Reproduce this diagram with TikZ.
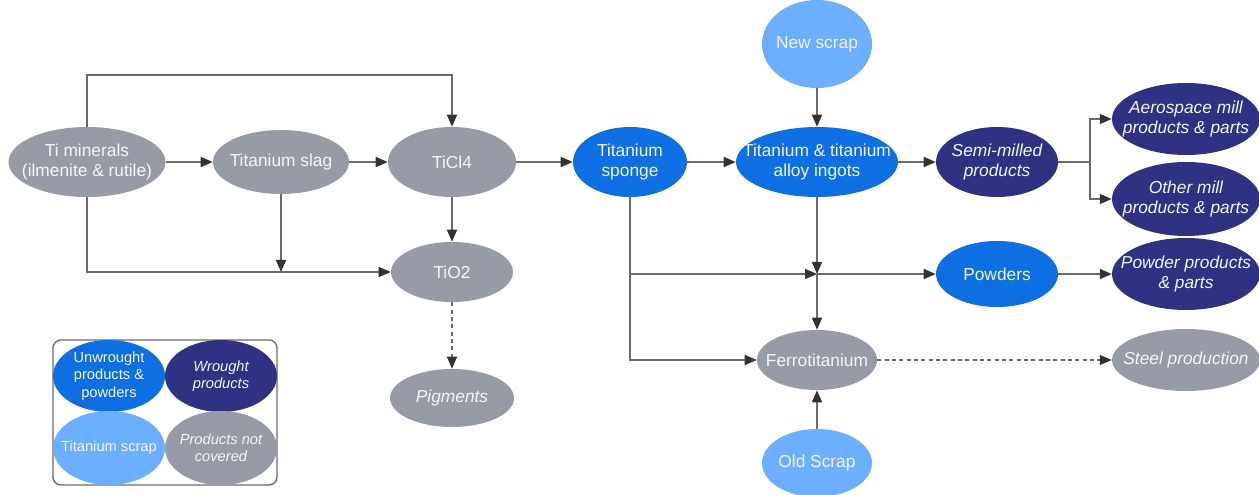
\documentclass[tikz,border=0pt]{standalone}
\usepackage{fontspec}
\setmainfont{Liberation Sans}
\usetikzlibrary{arrows.meta,shapes.geometric}
\definecolor{cgrey}{HTML}{969BA5}
\definecolor{cblue}{HTML}{0E6FE2}
\definecolor{cnavy}{HTML}{2F3282}
\definecolor{clight}{HTML}{6CAEFF}
\definecolor{cline}{HTML}{6A6A6A}
\definecolor{ctip}{HTML}{333333}
\definecolor{ctext}{HTML}{F4F4F8}
\begin{document}
\begin{tikzpicture}[x=0.75pt,y=-0.75pt,
  bub/.style={ellipse,inner sep=0pt},
  lab/.style={inner sep=0pt,align=center,text=ctext,font=\fontsize{13}{15.5}\selectfont},
  ilab/.style={lab,font=\fontsize{13}{15.5}\selectfont\itshape},
  slab/.style={lab,font=\fontsize{11}{13}\selectfont},
  silab/.style={lab,font=\fontsize{11}{13}\selectfont\itshape},
  con/.style={draw=cline,line width=1.1pt},
  arr/.style={con,-{Triangle[length=9pt,width=7.5pt,color=ctip]}},
  dsh/.style={arr,dash pattern=on 3pt off 2.5pt}
]
\useasboundingbox[fill=white] (0,0) rectangle (1259,495);

% ellipses
\node[bub,fill=cgrey,minimum width=157*0.75pt,minimum height=70*0.75pt] (tim) at (87,162) {};
\node[bub,fill=cgrey,minimum width=136*0.75pt,minimum height=64*0.75pt] (slag) at (281,162) {};
\node[bub,fill=cgrey,minimum width=128*0.75pt,minimum height=70*0.75pt] (ticl) at (452,162) {};
\node[bub,fill=cgrey,minimum width=122*0.75pt,minimum height=60*0.75pt] (tio) at (452,272) {};
\node[bub,fill=cgrey,minimum width=124*0.75pt,minimum height=58*0.75pt] (pig) at (452,398) {};
\node[bub,fill=cblue,minimum width=114*0.75pt,minimum height=70*0.75pt] (sponge) at (630,162) {};
\node[bub,fill=cblue,minimum width=162*0.75pt,minimum height=70*0.75pt] (ingot) at (817,162) {};
\node[bub,fill=clight,minimum width=110*0.75pt,minimum height=88*0.75pt] (newscrap) at (817,44) {};
\node[bub,fill=cnavy,minimum width=122*0.75pt,minimum height=70*0.75pt] (semi) at (997,162) {};
\node[bub,fill=cnavy,minimum width=148*0.75pt,minimum height=72*0.75pt] (aero) at (1186,119) {};
\node[bub,fill=cnavy,minimum width=148*0.75pt,minimum height=74*0.75pt] (other) at (1186,199) {};
\node[bub,fill=cblue,minimum width=122*0.75pt,minimum height=66*0.75pt] (powders) at (997,274) {};
\node[bub,fill=cnavy,minimum width=148*0.75pt,minimum height=72*0.75pt] (pprod) at (1186,274) {};
\node[bub,fill=cgrey,minimum width=120*0.75pt,minimum height=60*0.75pt] (ferro) at (817,360) {};
\node[bub,fill=cgrey,minimum width=148*0.75pt,minimum height=62*0.75pt] (steel) at (1186,360) {};
\node[bub,fill=clight,minimum width=110*0.75pt,minimum height=68*0.75pt] (oldscrap) at (817,463) {};

% labels
\node[lab] (tim-t) at (tim) {Ti minerals\\(ilmenite \& rutile)};
\node[lab] (slag-t) at (slag) {Titanium slag};
\node[lab] (ticl-t) at (ticl) {TiCl4};
\node[lab] (tio-t) at (tio) {TiO2};
\node[ilab] (pig-t) at (pig) {Pigments};
\node[lab] (sponge-t) at (sponge) {Titanium\\sponge};
\node[lab] (ingot-t) at (ingot) {Titanium \& titanium\\alloy ingots};
\node[lab] (newscrap-t) at (newscrap) {New scrap};
\node[ilab] (semi-t) at (semi) {Semi-milled\\products};
\node[ilab] (aero-t) at (aero) {Aerospace mill\\products \& parts};
\node[ilab] (other-t) at (other) {Other mill\\products \& parts};
\node[lab] (powders-t) at (powders) {Powders};
\node[ilab] (pprod-t) at (pprod) {Powder products\\\& parts};
\node[lab] (ferro-t) at (ferro) {Ferrotitanium};
\node[ilab] (steel-t) at (steel) {Steel production};
\node[lab] (oldscrap-t) at (oldscrap) {Old Scrap};

% helper coordinates
\coordinate (top) at (452,75);
\coordinate (br) at (1090,162);
\coordinate (j2) at (817,274);

% connectors
\draw[arr] (tim.north) |- (top) -- (ticl.north);
\draw[arr] (tim) -- (slag);
\draw[arr] (slag) -- (ticl);
\draw[arr] (tim.south) |- (tio.west);
\draw[arr] (slag.south) -- (slag.south |- tio.west);
\draw[arr] (ticl) -- (tio);
\draw[dsh] (tio) -- (pig);
\draw[arr] (ticl) -- (sponge);
\draw[arr] (sponge) -- (ingot);
\draw[arr] (newscrap) -- (ingot);
\draw[arr] (ingot) -- (semi);
\draw[con] (semi.east) -- (br);
\draw[arr] (br) |- (aero.west);
\draw[arr] (br) |- (other.west);
\draw[arr] (ingot.south) -- (j2);
\draw[arr] (sponge.south) |- (ferro.west);
\draw[arr] (sponge.south |- j2) -- (j2);
\draw[arr] (j2) -- (powders.west);
\draw[arr] (j2) -- (ferro.north);
\draw[arr] (powders) -- (pprod);
\draw[dsh] (ferro) -- (steel);
\draw[arr] (oldscrap) -- (ferro);

% legend
\node[draw=cline,line width=1pt,rounded corners=6pt,minimum width=224*0.75pt,minimum height=145*0.75pt,inner sep=0pt] (leg) at (165,412.5) {};
\node[bub,fill=cblue,minimum width=112*0.75pt,minimum height=72*0.75pt] (lu) at (109,376) {};
\node[bub,fill=cnavy,minimum width=112*0.75pt,minimum height=72*0.75pt] (lw) at (221,376) {};
\node[bub,fill=clight,minimum width=112*0.75pt,minimum height=74*0.75pt] (ls) at (109,448) {};
\node[bub,fill=cgrey,minimum width=112*0.75pt,minimum height=74*0.75pt] (ln) at (221,448) {};
\node[slab] (lu-t) at (lu) {Unwrought\\products \&\\powders};
\node[silab] (lw-t) at (lw) {Wrought\\products};
\node[slab] (ls-t) at (ls) {Titanium scrap};
\node[silab] (ln-t) at (ln) {Products not\\covered};
\end{tikzpicture}
\end{document}
